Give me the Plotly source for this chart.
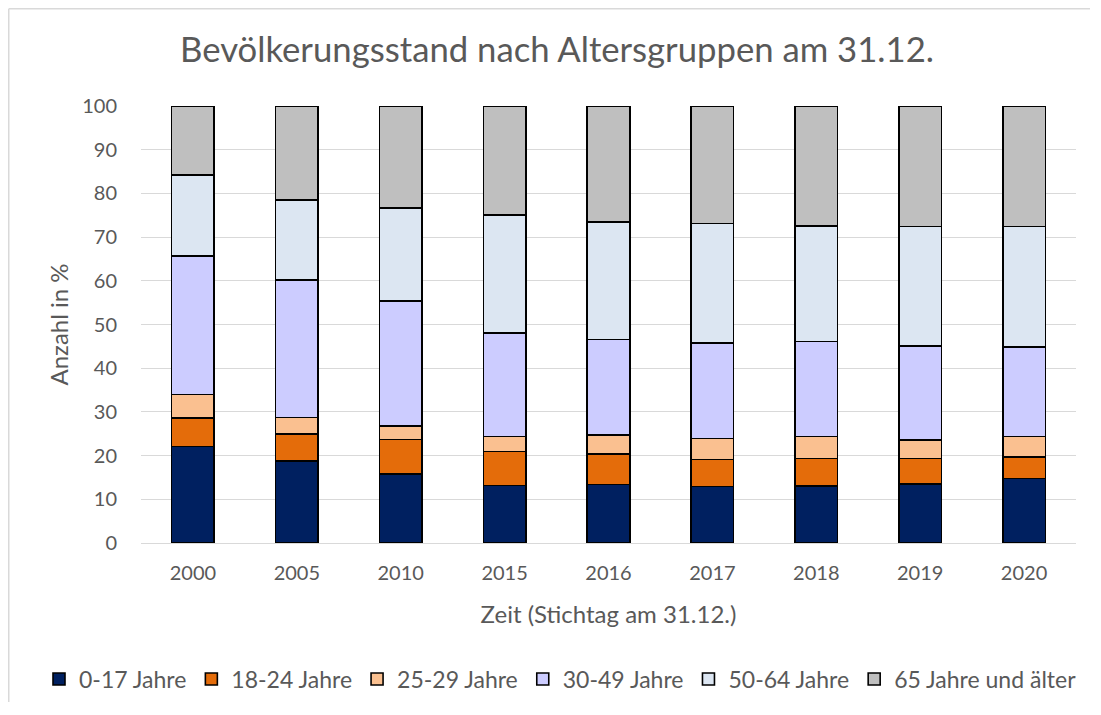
import plotly.graph_objects as go

years = ["2000", "2005", "2010", "2015", "2016", "2017", "2018", "2019", "2020"]
groups = ["0-17 Jahre", "18-24 Jahre", "25-29 Jahre", "30-49 Jahre", "50-64 Jahre", "65 Jahre und älter"]
colors = ["#002060", "#E46C0A", "#FAC090", "#CCCCFF", "#DCE6F2", "#BFBFBF"]

v_0_17  = [22.1, 18.8, 15.8, 13.2, 13.4, 12.9, 13.1, 13.5, 14.8]
v_18_24 = [6.5, 6.2, 7.9, 7.7, 7.0, 6.2, 6.2, 5.8, 4.9]
v_25_29 = [5.4, 3.7, 3.1, 3.5, 4.3, 4.8, 5.1, 4.3, 4.7]
v_30_49 = [31.7, 31.5, 28.6, 23.6, 21.9, 21.9, 21.7, 21.5, 20.4]
v_50_64 = [18.5, 18.3, 21.2, 27.0, 26.8, 27.3, 26.4, 27.3, 27.6]
v_65    = [15.8, 21.5, 23.4, 25.0, 26.6, 26.9, 27.5, 27.6, 27.6]

series = [v_0_17, v_18_24, v_25_29, v_30_49, v_50_64, v_65]

FONT = "Lato, Carlito, Calibri, sans-serif"
GREY = "#595959"

W, H = 1082, 694          # page body has an 8px margin
L, R, T, B = 133, 14, 98, 159
PW, PH = W - L - R, H - T - B

fig = go.Figure()
for name, vals, col in zip(groups, series, colors):
    fig.add_trace(go.Bar(
        x=years, y=vals, name=name,
        marker=dict(color=col, line=dict(color="#000000", width=1.6)),
    ))

fig.update_layout(
    barmode="stack",
    bargap=0.59,
    width=W, height=H,
    paper_bgcolor="white", plot_bgcolor="white",
    margin=dict(l=L, r=R, t=T, b=B, autoexpand=False),
    font=dict(family=FONT, color=GREY, size=20),
    title=dict(text="Bevölkerungsstand nach Altersgruppen am 31.12.",
               x=549 / W, xref="container", xanchor="center",
               y=1 - 42 / H, yref="container", yanchor="middle",
               font=dict(family=FONT, size=34.7, color=GREY)),
    xaxis=dict(
        type="category",
        showgrid=False, showline=False, zeroline=False,
        ticks="", ticklabelstandoff=16,
        tickfont=dict(size=20, color=GREY),
        title=dict(text="Zeit (Stichtag am 31.12.)", standoff=23,
                   font=dict(size=24, color=GREY)),
    ),
    yaxis=dict(
        range=[0, 100], dtick=10, tick0=0,
        showgrid=True, gridcolor="#D9D9D9", gridwidth=1.3,
        zeroline=True, zerolinecolor="#D9D9D9", zerolinewidth=1.3,
        showline=False, ticks="", ticklabelstandoff=23,
        tickfont=dict(size=20, color=GREY),
        title=dict(text="Anzahl in %", standoff=6,
                   font=dict(size=24, color=GREY)),
    ),
    legend=dict(
        orientation="h",
        x=(31 - L) / PW, xref="paper", xanchor="left",
        y=(H - B - 671) / PH, yref="paper", yanchor="middle",
        font=dict(size=23, color=GREY),
        itemwidth=30,
        traceorder="normal",
        bgcolor="rgba(0,0,0,0)",
    ),
    showlegend=True,
)

# chart frame (left and top edges visible)
xf = (0.75 - L) / PW
yf = (H - B - 0.75) / PH
fig.add_shape(type="line", xref="paper", yref="paper",
              x0=xf, x1=xf, y0=yf, y1=-B / PH,
              line=dict(color="#D9D9D9", width=1.5))
fig.add_shape(type="line", xref="paper", yref="paper",
              x0=xf, x1=1 + R / PW, y0=yf, y1=yf,
              line=dict(color="#D9D9D9", width=1.5))

fig.write_html("out.html")
